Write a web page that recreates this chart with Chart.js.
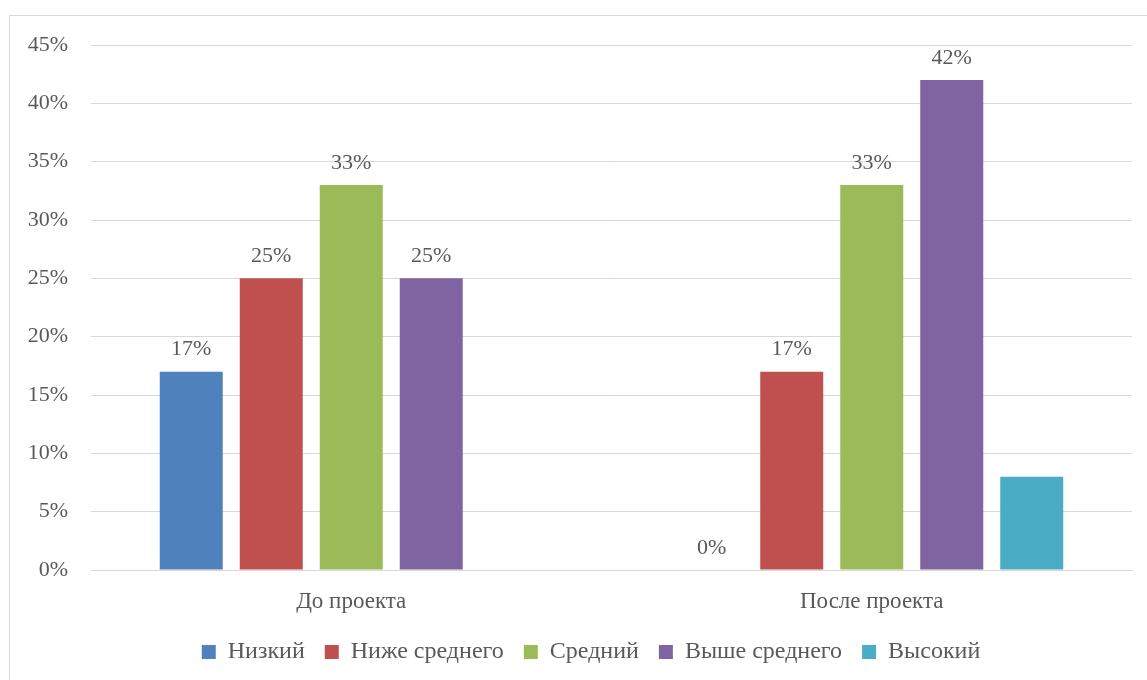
<!DOCTYPE html>
<html>
<head>
<meta charset="utf-8">
<script src="https://cdn.jsdelivr.net/npm/chart.js@4.4.0/dist/chart.umd.min.js"></script>
<style>
  html, body { margin: 0; padding: 0; background: #ffffff; }
  #wrap { position: relative; width: 1147px; height: 680px; overflow: hidden; }
  #frame { position: absolute; left: 9px; top: 15px; width: 1300px; height: 800px; border: 1px solid #d9d9d9; box-sizing: border-box; }
  canvas { position: absolute; left: 0; top: 0; }
</style>
</head>
<body>
<div id="wrap">
  <div id="frame"></div>
  <canvas id="c" width="1147" height="680"></canvas>
</div>
<script>
const categories = ["До проекта", "После проекта"];
const seriesNames = ["Низкий", "Ниже среднего", "Средний", "Выше среднего", "Высокий"];
const lowValues = [17, 0];
const belowAvgValues = [25, 17];
const avgValues = [33, 33];
const aboveAvgValues = [25, 42];
const highValues = [null, 8];
const seriesColors = ["#4F81BD", "#C0504D", "#9BBB59", "#8064A2", "#4BACC6"];
const labeledSeries = [true, true, true, true, false];
const yTicks = [0, 5, 10, 15, 20, 25, 30, 35, 40, 45];

const allValues = [lowValues, belowAvgValues, avgValues, aboveAvgValues, highValues];
const FONT = "'Liberation Serif', 'Times New Roman', serif";
const TEXT = "#595959";

const datasets = seriesNames.map((name, i) => ({
  label: name,
  data: allValues[i],
  backgroundColor: seriesColors[i],
  borderWidth: 0,
  categoryPercentage: 0.7685,
  barPercentage: 0.7875
}));

const valueLabels = {
  id: 'valueLabels',
  afterDatasetsDraw(chart) {
    const ctx = chart.ctx;
    ctx.save();
    ctx.font = "22px " + FONT;
    ctx.fillStyle = TEXT;
    ctx.textAlign = 'center';
    ctx.textBaseline = 'middle';
    chart.data.datasets.forEach((ds, di) => {
      if (!labeledSeries[di]) return;
      const meta = chart.getDatasetMeta(di);
      meta.data.forEach((el, idx) => {
        const v = ds.data[idx];
        if (v === null || v === undefined) return;
        ctx.fillText(v + '%', el.x, el.y - 22);
      });
    });
    ctx.restore();
  }
};

const legendShift = {
  id: 'legendShift',
  afterLayout(chart) {
    if (chart.legend) {
      chart.legend.left += 25;
      chart.legend.right += 25;
    }
  }
};

new Chart(document.getElementById('c'), {
  type: 'bar',
  data: { labels: categories, datasets },
  options: {
    responsive: false,
    animation: false,
    devicePixelRatio: 1,
    layout: { padding: { top: 45, right: 15, bottom: 6, left: 0 } },
    scales: {
      x: {
        afterFit(scale) { scale.height = 50; },
        grid: { display: false, drawTicks: false },
        border: { display: true, color: '#d9d9d9', width: 1 },
        ticks: { color: TEXT, font: { family: FONT, size: 23 }, padding: 18 }
      },
      y: {
        min: 0, max: 45,
        afterFit(scale) { scale.width = 91; },
        afterBuildTicks(scale) { scale.ticks = yTicks.map(v => ({ value: v })); },
        grid: { color: '#d9d9d9', drawTicks: false, lineWidth: 1 },
        border: { display: false },
        ticks: { color: TEXT, font: { family: FONT, size: 22 }, padding: 23, callback: v => v + '%' }
      }
    },
    plugins: {
      legend: {
        position: 'bottom',
        labels: {
          color: TEXT,
          font: { family: FONT, size: 24 },
          boxWidth: 14,
          boxHeight: 14,
          padding: 20
        }
      },
      tooltip: { enabled: false }
    }
  },
  plugins: [valueLabels, legendShift]
});
</script>
</body>
</html>
